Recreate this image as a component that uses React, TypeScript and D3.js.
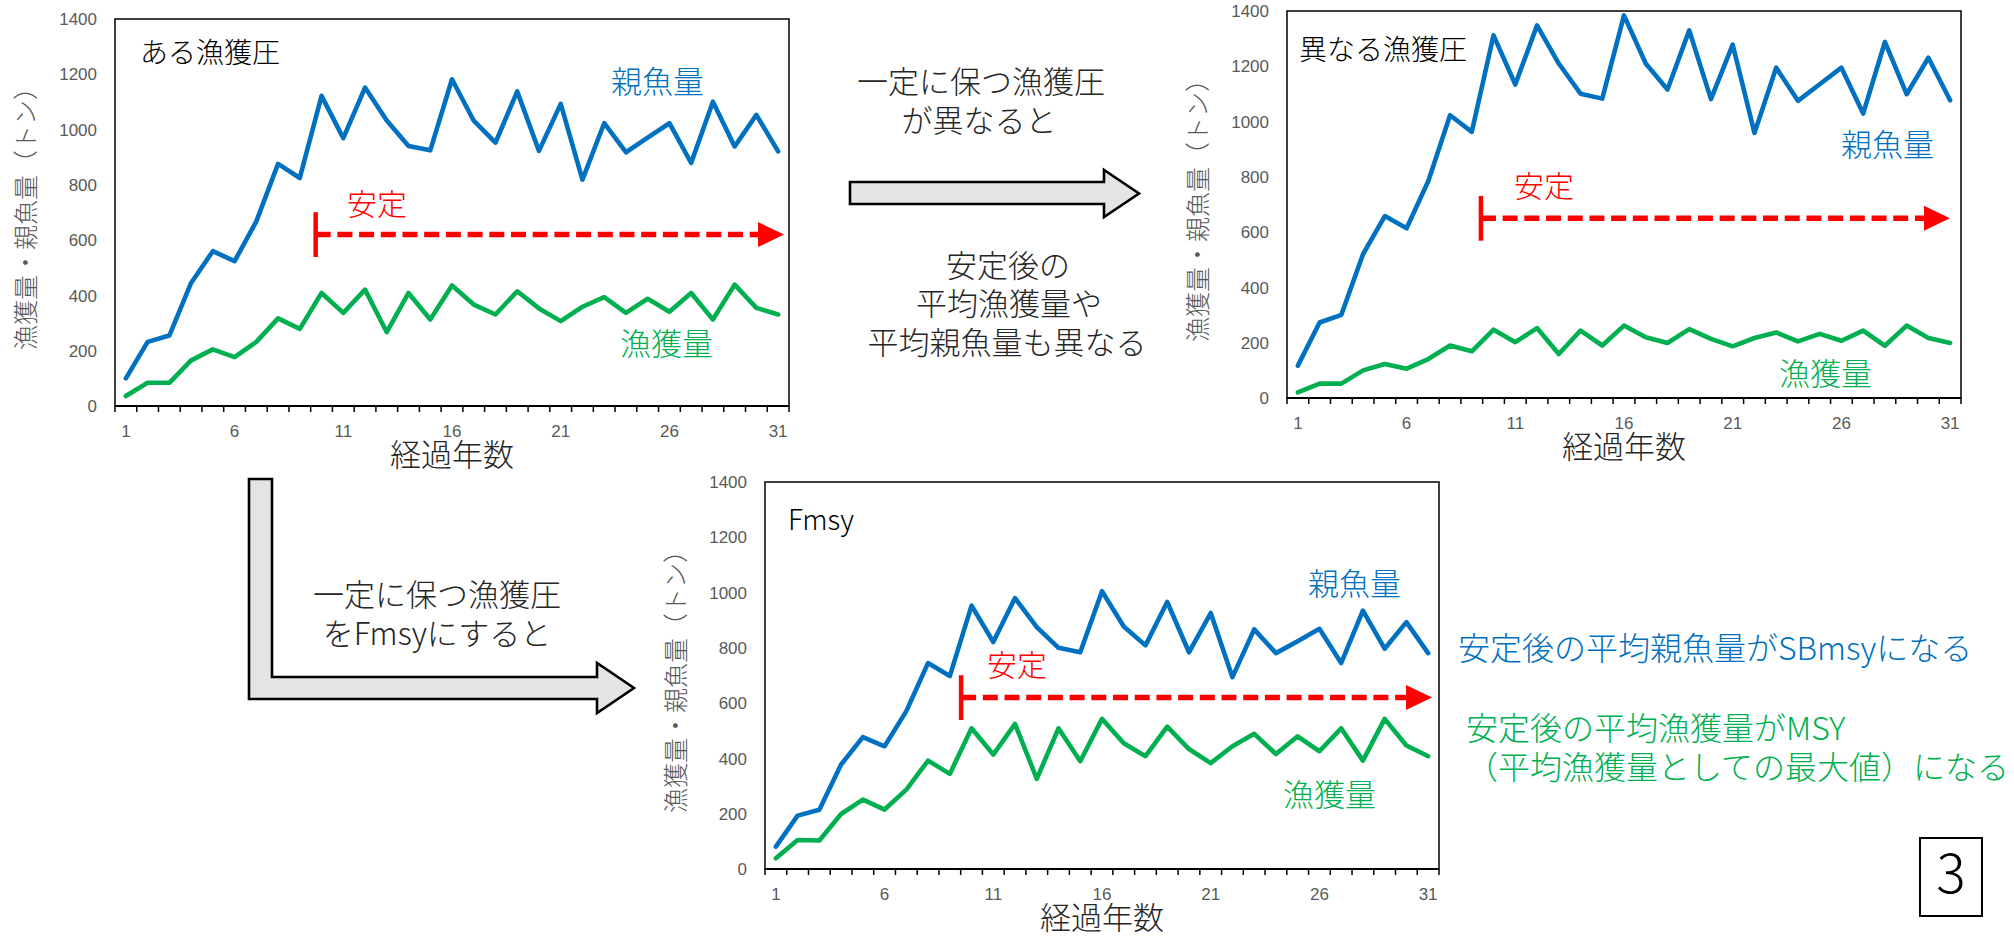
import React from "react";
import * as d3 from "d3";

// ---------- data ----------
const years = [1, 2, 3, 4, 5, 6, 7, 8, 9, 10, 11, 12, 13, 14, 15, 16, 17, 18, 19, 20, 21, 22, 23, 24, 25, 26, 27, 28, 29, 30, 31];
const xTickLabels = [1, 6, 11, 16, 21, 26, 31];
const yTicks = [0, 200, 400, 600, 800, 1000, 1200, 1400];

// panel A: ある漁獲圧
const spawnA = [100, 232, 255, 445, 560, 524, 668, 876, 825, 1122, 969, 1152, 1033, 941, 925, 1182, 1032, 953, 1138, 923, 1093, 819, 1023, 918, 971, 1023, 879, 1101, 939, 1053, 921];
const catchA = [36, 84, 84, 165, 205, 177, 232, 317, 279, 409, 337, 421, 267, 409, 313, 436, 367, 331, 415, 353, 307, 359, 394, 337, 388, 341, 409, 313, 439, 355, 331];
// panel B: 異なる漁獲圧
const spawnB = [117, 273, 301, 521, 658, 614, 785, 1023, 963, 1312, 1134, 1348, 1210, 1101, 1083, 1384, 1210, 1116, 1330, 1081, 1278, 959, 1195, 1075, 1135, 1195, 1029, 1288, 1099, 1231, 1077];
const catchB = [20, 52, 52, 100, 123, 106, 141, 190, 169, 247, 202, 253, 159, 244, 190, 262, 220, 199, 249, 214, 187, 217, 237, 205, 232, 207, 244, 189, 262, 217, 199];
// panel C: Fmsy
const spawnC = [81, 193, 214, 378, 477, 444, 571, 745, 698, 953, 821, 980, 875, 800, 784, 1005, 877, 809, 966, 784, 926, 694, 867, 781, 824, 869, 745, 935, 797, 893, 781];
const catchC = [39, 105, 103, 199, 251, 215, 287, 392, 344, 509, 414, 525, 326, 509, 390, 543, 455, 408, 515, 434, 383, 444, 489, 416, 480, 426, 509, 392, 543, 447, 408];

// stable-period annotation: start (in years), level (t), arrow tip (in years)
const stableStart = [9.73, 9.42, 9.52];
const stableLevel = [620, 650, 620];
const stableEnd = [31.27, 30.99, 31.18];

const panelTitles = ["ある漁獲圧", "異なる漁獲圧", "Fmsy"];
const spawnLabel = "親魚量";
const catchLabel = "漁獲量";
const stableLabel = "安定";
const yTitle = "漁獲量・親魚量（トン）";
const xTitle = "経過年数";

// ---------- styles ----------
const BLUE = "#0070C0";
const GREEN = "#00B050";
const RED = "#FF0000";
const GRAY = "#595959";
const CJK = "'Noto Sans CJK JP', 'Noto Sans', sans-serif";
const NUM = "'Liberation Sans', Arial, sans-serif";
const FW = 300;
const W = 674;
const H = 387;

const layouts = [
  { left: 115, top: 19, title: [140, 63], spawnLbl: [611, 93], catchLbl: [620, 355], stableLbl: [347, 215] },
  { left: 1287, top: 11, title: [1299, 60], spawnLbl: [1841, 156], catchLbl: [1779, 385], stableLbl: [1514, 197] },
  { left: 765, top: 482, title: [788, 530], spawnLbl: [1308, 595], catchLbl: [1283, 806], stableLbl: [987, 676] },
];

const seriesByPanel = [
  [spawnA, catchA],
  [spawnB, catchB],
  [spawnC, catchC],
];

function Panel({ idx }: { idx: number }) {
  const L = layouts[idx];
  const [spawn, ctch] = seriesByPanel[idx];
  const xs = d3.scaleBand<number>().domain(years).range([0, W]).paddingInner(0).paddingOuter(0);
  const bw = xs.bandwidth();
  const ys = d3.scaleLinear().domain([0, 1400]).range([H, 0]);
  const cx = (yr: number) => (xs(yr) as number) + bw / 2;
  const ux = (u: number) => (u - 0.5) * bw;
  const line = d3
    .line<number>()
    .x((_, i) => cx(years[i]))
    .y((d) => ys(d));

  const sx = ux(stableStart[idx]);
  const ex = ux(stableEnd[idx]);
  const sy = ys(stableLevel[idx]);
  const headLen = 26;
  const headHalf = 12.5;
  const barHalf = ys(0) - ys(81);

  const boundaries = [...years.map((y) => xs(y) as number), W];

  return (
    <g>
      <g transform={`translate(${L.left},${L.top})`}>
        {/* frame */}
        <rect x={0} y={0} width={W} height={H} fill="#fff" stroke="#000" strokeWidth={1.5} />
        <line x1={0} x2={W} y1={H} y2={H} stroke="#000" strokeWidth={2.2} />
        {boundaries.map((b, i) => (
          <line key={i} x1={b} x2={b} y1={H} y2={H + 6} stroke="#000" strokeWidth={1.5} />
        ))}
        {/* y tick labels */}
        {yTicks.map((t) => (
          <text key={t} x={-18} y={ys(t)} dy="0.36em" textAnchor="end" fontFamily={NUM} fontSize={17} fill={GRAY}>
            {t}
          </text>
        ))}
        {/* x tick labels */}
        {xTickLabels.map((t) => (
          <text key={t} x={cx(t)} y={H + 31} textAnchor="middle" fontFamily={NUM} fontSize={17} fill={GRAY}>
            {t}
          </text>
        ))}
        {/* series */}
        <path d={line(spawn) || ""} fill="none" stroke={BLUE} strokeWidth={4.6} strokeLinejoin="round" strokeLinecap="round" />
        <path d={line(ctch) || ""} fill="none" stroke={GREEN} strokeWidth={4.6} strokeLinejoin="round" strokeLinecap="round" />
        {/* stable annotation */}
        <line x1={sx} x2={sx} y1={sy - barHalf} y2={sy + barHalf} stroke={RED} strokeWidth={4.5} />
        <line x1={sx} x2={ex - headLen} y1={sy} y2={sy} stroke={RED} strokeWidth={5.5} strokeDasharray="15 6.7" />
        <path d={`M${ex - headLen},${sy - headHalf} L${ex},${sy} L${ex - headLen},${sy + headHalf} Z`} fill={RED} />
        {/* axis titles */}
        <text
          transform={`translate(${-91},${H / 2}) rotate(-90)`}
          textAnchor="middle"
          dominantBaseline="central"
          fontFamily={CJK}
          fontWeight={FW}
          fontSize={25}
          fill={GRAY}
        >
          {yTitle}
        </text>
        <text x={W / 2} y={H + 60} textAnchor="middle" fontFamily={CJK} fontWeight={FW} fontSize={31} fill="#262626">
          {xTitle}
        </text>
      </g>
      {/* in-panel labels */}
      <text x={L.title[0]} y={L.title[1]} fontFamily={CJK} fontWeight={FW} fontSize={28} fill="#000">
        {panelTitles[idx]}
      </text>
      <text x={L.spawnLbl[0]} y={L.spawnLbl[1]} fontFamily={CJK} fontWeight={FW} fontSize={31} fill={BLUE}>
        {spawnLabel}
      </text>
      <text x={L.catchLbl[0]} y={L.catchLbl[1]} fontFamily={CJK} fontWeight={FW} fontSize={31} fill={GREEN}>
        {catchLabel}
      </text>
      <text x={L.stableLbl[0]} y={L.stableLbl[1]} fontFamily={CJK} fontWeight={FW} fontSize={30} fill={RED}>
        {stableLabel}
      </text>
    </g>
  );
}

export default function App() {
  const TXT = "#262626";
  return (
    <svg
      width={2014}
      height={938}
      viewBox="0 0 2014 938"
      style={{ position: "absolute", left: 0, top: 0, background: "#fff" }}
    >
      <rect x={0} y={0} width={2014} height={938} fill="#fff" />
      {/* arrows */}
      <path
        d="M850,182 L1104,182 L1104,170 L1139,193.5 L1104,217 L1104,204 L850,204 Z"
        fill="#e4e4e4"
        stroke="#000"
        strokeWidth={2.6}
        strokeLinejoin="miter"
      />
      <path
        d="M249,479 L272,479 L272,677 L597,677 L597,663 L634,688 L597,713 L597,699 L249,699 Z"
        fill="#e4e4e4"
        stroke="#000"
        strokeWidth={2.6}
        strokeLinejoin="miter"
      />
      <Panel idx={0} />
      <Panel idx={1} />
      <Panel idx={2} />
      {/* explanatory text */}
      <g fontFamily={CJK} fontWeight={FW} fontSize={31} fill={TXT} textAnchor="middle">
        <text x={981} y={93}>一定に保つ漁獲圧</text>
        <text x={979} y={132}>が異なると</text>
        <text x={1008} y={277}>安定後の</text>
        <text x={1009} y={315}>平均漁獲量や</text>
        <text x={1007} y={354}>平均親魚量も異なる</text>
        <text x={437} y={606}>一定に保つ漁獲圧</text>
        <text x={437} y={645}>をFmsyにすると</text>
      </g>
      <g fontFamily={CJK} fontWeight={FW} fontSize={32}>
        <text x={1458} y={660} fill={BLUE}>安定後の平均親魚量がSBmsyになる</text>
        <text x={1466} y={740} fill={GREEN}>安定後の平均漁獲量がMSY</text>
        <text x={1466} y={779} fill={GREEN}>（平均漁獲量としての最大値）になる</text>
      </g>
      {/* page number */}
      <rect x={1920} y={838} width={62} height={78} fill="none" stroke="#000" strokeWidth={2} />
      <text x={1951} y={893} textAnchor="middle" fontFamily={CJK} fontWeight={300} fontSize={55} fill="#000">
        3
      </text>
    </svg>
  );
}
